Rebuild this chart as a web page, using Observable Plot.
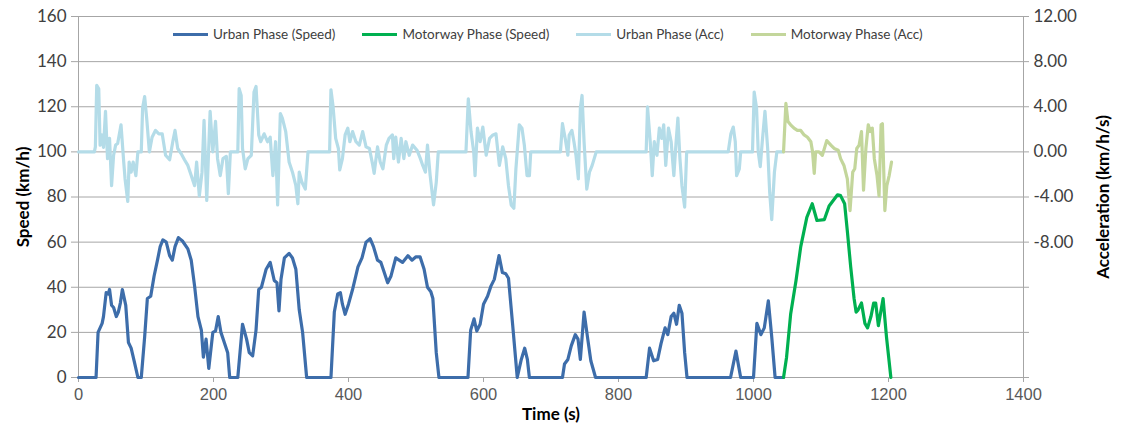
<!DOCTYPE html>
<html>
<head>
<meta charset="utf-8">
<script src="https://cdn.jsdelivr.net/npm/d3@7"></script>
<script src="https://cdn.jsdelivr.net/npm/@observablehq/plot@0.6"></script>
<style>
  html, body { margin: 0; padding: 0; background: #fff; }
  #wrap { position: relative; width: 1126px; height: 431px; }
  #legend { position: absolute; left: 173px; top: 26px; display: flex; align-items: center;
    font-family: Lato, "Open Sans", sans-serif; font-size: 13.5px; color: #404040; white-space: nowrap; }
  #legend .item { display: flex; align-items: center; margin-right: 27px; }
  #legend .sw { width: 35px; height: 3px; margin-right: 5px; }
</style>
</head>
<body>
<div id="wrap"><div id="legend"></div></div>
<script>
// ---- data (time s, value) ----
const urbanSpeed = [[0,0],[26,0],[29,20],[35,24],[37,27],[41,37.6],[44,37],[46,39],[49,32],[52,31],[56,27],[59,29],[62,33],[65,39],[70,32],[74,15.5],[78,13],[83,6.6],[88,0],[93,0],[98,18],[102,35],[107,36],[112,45],[117,52],[121,58],[125,61],[130,60],[135,54],[139,52],[143,58],[148,62],[154,60.5],[162,57],[167,52],[172,40.5],[177,27],[182,21],[185,9],[189,17],[193,4],[199,20],[203,20.6],[207,27],[211,20],[216,15.5],[221,11],[224,0],[236,0],[243,23.6],[249,17],[253,11],[258,9.6],[263,21],[267,39],[271,40],[278,48],[284,51],[290,43],[294,42],[297,29.5],[300,43.5],[305,53],[312,55],[317,53],[322,48],[327,30],[332,20],[338,0],[374,0],[379,29],[384,37],[388,37.6],[391,32.5],[395,28],[400,32.5],[406,39],[414,49],[420,53],[426,60],[432,61.5],[437,58],[443,52],[448,51],[453,46.5],[458,42],[463,45],[470,53],[475,52],[480,51],[488,54],[494,52],[500,53.5],[506,53.5],[512,48],[517,40],[522,38],[525,35],[530,11],[534,0],[577,0],[581,21],[586,26],[590,20.6],[595,23.6],[600,32.5],[606,36],[611,40.5],[616,43.5],[623,54],[628,46.5],[633,46],[637,44],[643,24],[650,0],[656,8],[661,13],[665,8],[668,0],[717,0],[720,6],[725,8],[730,14],[736,19],[740,17],[743.5,8],[749,29],[754,18],[759,7.4],[766,0],[841,0],[846,13],[852,7.4],[858,8],[863,15],[869,22],[873,19],[878,27],[882,28.5],[886,23.6],[890,32],[894,28.5],[898,11],[901.5,0],[966,0],[974,11.7],[981,0],[1000,0],[1005,24],[1011,19],[1016,22],[1022,34],[1027,18],[1032,0],[1044.5,0]];

const motorwaySpeed = [[1044.5,0],[1049,9],[1055,28],[1063,43],[1070,58],[1079,71],[1087,77],[1094,69.6],[1105,70],[1112,76],[1124.5,81],[1129,80.6],[1135,77],[1139,65],[1144,49],[1149,35],[1152,29],[1155,30],[1160,33],[1165,24],[1169,22],[1174,27],[1178,33],[1181,33],[1185,23],[1192,35],[1197,18],[1203.5,0]];

const urbanAcc = [[0,0],[23.5,0],[25,0.44],[27,5.9],[30,5.6],[32,0.6],[35,1.5],[37,0.4],[40,3.6],[43,-0.6],[46,1.2],[49,-3],[52,-0.3],[55,0.6],[58,0.74],[63,2.4],[67,-0.9],[69,-2.4],[73,-4.4],[75,-0.9],[78,-1.8],[81,-0.9],[85,-2.1],[88,0],[93,0],[95,3.9],[98,4.9],[101,3],[105,0],[109,1.3],[114,1.9],[119,1.6],[124,1.6],[129,-0.3],[135,-0.7],[140,1],[143,1.9],[147,0.3],[152,-0.15],[157,-0.7],[162,-1.2],[167,-2.1],[172,-3],[175,-0.9],[179,-3.9],[183,-1.8],[186,2.8],[190,-4.3],[195,3.6],[199,0],[203,2.7],[206,-0.6],[210,-2.1],[214,-0.6],[219,-0.4],[222,-3.7],[225,0],[236,0],[238,5.6],[241,5],[243,0.3],[247,-1.5],[251,-0.6],[256,-0.3],[260,5.3],[263,5.8],[267,1.5],[270,0.9],[275,1.6],[280,0.9],[284,1.3],[288,-2.1],[292,0.9],[295,-4.7],[299,3.4],[302,3],[307,1.8],[312,-0.9],[317,-1.8],[322,-3],[325,-4.6],[327,-1.8],[331,-2.7],[336,-3.3],[340,0],[372,0],[374,5.5],[377,4.1],[381,1.2],[385,0.3],[387,-1.6],[391,-0.6],[395,1.5],[399,2.1],[402,0.9],[406,1.8],[411,0.9],[416,0.6],[421,1.8],[426,0.44],[431,0.3],[436,-1.2],[438,-1.9],[443,0.44],[447,-0.9],[451,-1.5],[456,0.6],[460,1.2],[465,1.5],[467,-0.6],[470,1.3],[474,-0.9],[478,1.2],[482,-0.6],[485,0.9],[490,-0.3],[495,0.6],[501.5,0.15],[506.5,-0.6],[510,-1.2],[514,-1.8],[517,0.6],[521,-2.1],[526,-4.7],[530,-2.7],[533,0],[574,0],[577.5,4.7],[581.5,1.8],[585.5,0],[587.5,-2.1],[591,2.1],[595,0.9],[599,2.2],[604,-0.3],[609,1.2],[614,1.5],[618.5,1.6],[623.5,-1.2],[628.5,0.44],[633,-0.6],[637,-3],[641,-4.7],[645,-5],[648,-1.5],[653,2.4],[657,2.1],[660.5,0.6],[664.5,-2.1],[668,-2.1],[670,0],[714,0],[717,2.5],[721,1.2],[725,-0.3],[727,1.5],[731,1.9],[734,0.9],[737,-0.3],[740.5,-2.4],[743.5,3.9],[746,5],[749,0.9],[753,-3.3],[757,-1.8],[761,-1.2],[764,-0.6],[767,0],[841,0],[843,4],[847,0.9],[850,-2.1],[853,0.9],[857,-0.3],[860.5,2.1],[864,1.2],[867,2.4],[870,-1.2],[874,2.1],[878,0.9],[882,-2.1],[885,0.6],[888,3],[891,-0.6],[894,-3],[898,-4.9],[901,0],[962.5,0],[966.5,1.6],[970,2.2],[973,0.9],[975,-2.1],[979,-1.5],[981,0],[998.5,0],[1001,5.3],[1004.5,3.9],[1007,0],[1010,-1.3],[1013,0.9],[1017,3.6],[1021,0.3],[1024,-3.6],[1027,-6],[1031,-1.8],[1034.6,0],[1043,0]];

const motorwayAcc = [[1044.5,0],[1048,4.3],[1051,2.7],[1055,2.4],[1060,2.1],[1065,1.9],[1070,1.9],[1075,1.5],[1080,1.3],[1085,0.9],[1087.5,0],[1090,-1.9],[1092,0],[1097,0],[1102,-0.3],[1108.5,1],[1114.6,0.6],[1119.5,0.3],[1125.5,0.15],[1129,-0.6],[1134,-1.2],[1139,-2.4],[1143,-5.2],[1147,-1.8],[1150,-1.5],[1153,0.3],[1156.5,0.6],[1160,1.8],[1163,-3.4],[1166.5,0.3],[1170,2.4],[1173,1.8],[1176,2.1],[1179,-0.6],[1183,-2.1],[1186,-3.9],[1189,2.4],[1191,2.5],[1194.6,-5.2],[1197.5,-3],[1201,-2.1],[1204.5,-0.9]];

const xTicks = [0, 200, 400, 600, 800, 1000, 1200, 1400];
const speedTicks = [0, 20, 40, 60, 80, 100, 120, 140, 160];
const accTicks = [-8, -4, 0, 4, 8, 12];

const seriesNames = ["Urban Phase (Speed)", "Motorway Phase (Speed)", "Urban Phase (Acc)", "Motorway Phase (Acc)"];
const seriesColors = ["#3d6daa", "#00b050", "#b4dce8", "#c3d69b"];

// acceleration drawn on the secondary axis: 0 km/h/s aligned with 100 on speed axis, 4 km/h/s per 20 units
const accToSpeed = a => 100 + 5 * a;
const speedToAcc = s => (s - 100) / 5;
const accTickPos = accTicks.map(accToSpeed);

const lineOpts = {x: d => d[0], strokeWidth: 3.2, strokeLinejoin: "round", strokeLinecap: "round"};

const chart = Plot.plot({
  width: 1126,
  height: 431,
  marginLeft: 78,
  marginRight: 103,
  marginTop: 16,
  marginBottom: 54,
  style: {fontFamily: "Lato, 'Open Sans', sans-serif", background: "white", overflow: "visible"},
  x: {domain: [0, 1400]},
  y: {domain: [0, 160]},
  marks: [
    Plot.ruleY(speedTicks, {stroke: "#a6a6a6", strokeWidth: 1}),
    Plot.ruleX([0, 1400], {stroke: "#a6a6a6", strokeWidth: 1}),
    Plot.axisY({ticks: speedTicks, anchor: "left", tickSize: 7, tickPadding: 5, stroke: "#a6a6a6",
      fontSize: 17, fill: "#404040",
      label: "Speed (km/h)", labelAnchor: "center", labelArrow: "none", labelOffset: 62}),
    Plot.axisY({ticks: speedTicks, anchor: "right", tickSize: 5, tickPadding: 5, stroke: "#a6a6a6",
      fontSize: 17, fill: "#404040",
      tickFormat: d => accTickPos.includes(d) ? speedToAcc(d).toFixed(2) : "",
      label: "Acceleration (km/h/s)", labelAnchor: "center", labelArrow: "none", labelOffset: 85}),
    Plot.axisX({ticks: xTicks, tickSize: 5, tickPadding: 6, stroke: "#a6a6a6",
      tickFormat: d => String(d),
      fontSize: 16.5, fontFamily: "'Liberation Sans', Arial, sans-serif", fill: "#595959",
      label: "Time (s)", labelAnchor: "center", labelArrow: "none", labelOffset: 42}),
    Plot.line(urbanAcc, {...lineOpts, y: d => accToSpeed(d[1]), stroke: seriesColors[2]}),
    Plot.line(motorwayAcc, {...lineOpts, y: d => accToSpeed(d[1]), stroke: seriesColors[3]}),
    Plot.line(urbanSpeed, {...lineOpts, y: d => d[1], stroke: seriesColors[0]}),
    Plot.line(motorwaySpeed, {...lineOpts, y: d => d[1], stroke: seriesColors[1]})
  ]
});

// make axis labels bold / sized
chart.querySelectorAll('[aria-label="y-axis label"], [aria-label="x-axis label"]').forEach(g => {
  g.setAttribute("font-size", "17");
  g.setAttribute("font-weight", "bold");
  g.setAttribute("fill", "#000");
  g.style.fontFamily = "Lato, 'Open Sans', sans-serif";
});

const wrap = document.getElementById("wrap");
wrap.insertBefore(chart, wrap.firstChild);

const legend = document.getElementById("legend");
seriesNames.forEach((name, i) => {
  const item = document.createElement("div");
  item.className = "item";
  const sw = document.createElement("span");
  sw.className = "sw";
  sw.style.background = seriesColors[i];
  const label = document.createElement("span");
  label.textContent = name;
  item.appendChild(sw);
  item.appendChild(label);
  legend.appendChild(item);
});
</script>
</body>
</html>
